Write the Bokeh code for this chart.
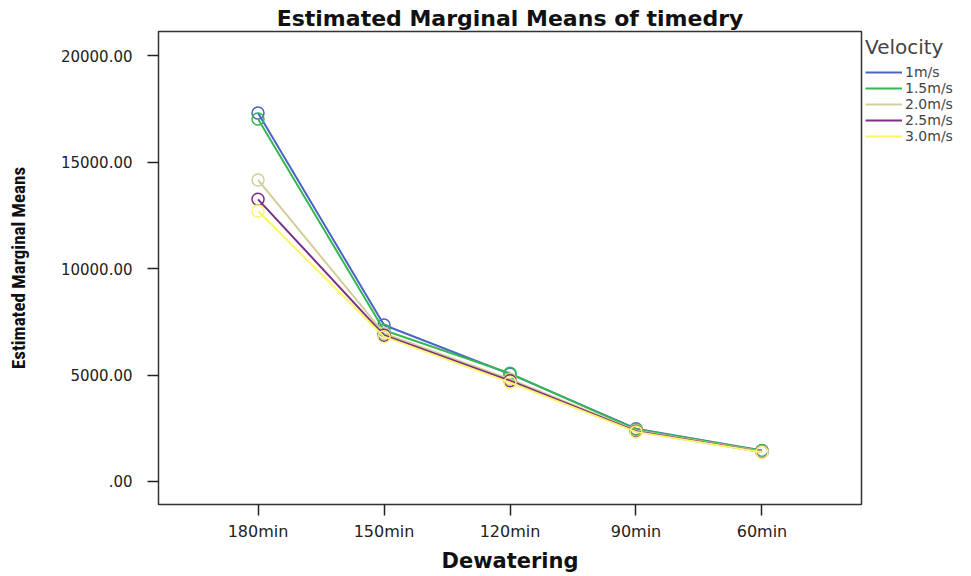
from bokeh.plotting import figure
from bokeh.models import (FactorRange, Range1d, FixedTicker, Legend, LegendItem, Title)
from bokeh.embed import file_html
from bokeh.resources import INLINE

dewatering = ["180min", "150min", "120min", "90min", "60min"]
velocities = ["1m/s", "1.5m/s", "2.0m/s", "2.5m/s", "3.0m/s"]
v_1_0 = [17300, 7350, 5050, 2480, 1460]
v_1_5 = [17020, 7100, 5080, 2450, 1440]
v_2_0 = [14160, 6950, 4800, 2400, 1410]
v_2_5 = [13250, 6870, 4730, 2360, 1390]
v_3_0 = [12700, 6800, 4650, 2330, 1370]
series = [v_1_0, v_1_5, v_2_0, v_2_5, v_3_0]
colors = ["#4b63c4", "#35b850", "#d3ce97", "#7c2f85", "#faf46e"]
y_ticks = [0, 5000, 10000, 15000, 20000]
y_tick_labels = [".00", "5000.00", "10000.00", "15000.00", "20000.00"]

p = figure(frame_width=703, frame_height=473, output_backend="svg", toolbar_location=None,
           x_range=FactorRange(factors=dewatering, range_padding=0.29,
                               range_padding_units="absolute"),
           y_range=Range1d(-1080, 21130),
           min_border_left=158, min_border_right=108,
           min_border_top=31, min_border_bottom=68)

p.title = Title(text="Estimated Marginal Means of timedry", align="center",
                text_font="DejaVu Sans", text_font_size="22px",
                text_font_style="bold", text_color="#111111",
                offset=0, standoff=2)

p.background_fill_color = "white"
p.border_fill_color = "white"
p.outline_line_color = "#333333"
p.outline_line_width = 1.5
p.xgrid.visible = False
p.ygrid.visible = False

for ax in (p.xaxis[0], p.yaxis[0]):
    ax.axis_line_color = None
    ax.major_tick_in = 0
    ax.major_tick_out = 11
    ax.major_tick_line_color = "#222222"
    ax.major_tick_line_width = 1.5
    ax.minor_tick_line_color = None
    ax.major_label_text_font = "DejaVu Sans"
    ax.major_label_text_color = "#222222"
    ax.axis_label_text_color = "#111111"
    ax.axis_label_text_font_style = "bold"

p.yaxis[0].ticker = FixedTicker(ticks=y_ticks)
p.yaxis[0].major_label_overrides = {t: l for t, l in zip(y_ticks, y_tick_labels)}
p.yaxis[0].major_label_text_font_size = "15px"
p.yaxis[0].major_label_standoff = 15
p.yaxis[0].axis_label = "Estimated Marginal Means"
p.yaxis[0].axis_label_text_font = "Liberation Sans Narrow, Roboto Condensed, Liberation Sans"
p.yaxis[0].axis_label_text_font_size = "19px"
p.yaxis[0].axis_label_standoff = 28

p.xaxis[0].major_label_text_font_size = "16px"
p.xaxis[0].major_label_standoff = 6
p.xaxis[0].axis_label = "Dewatering"
p.xaxis[0].axis_label_text_font = "DejaVu Sans"
p.xaxis[0].axis_label_text_font_size = "21px"
p.xaxis[0].axis_label_standoff = 5

items = []
for name, vals, col in zip(velocities, series, colors):
    r = p.line(dewatering, vals, line_color=col, line_width=2)
    p.scatter(dewatering, vals, size=12, marker="circle", fill_color=None,
              line_color=col, line_width=1.5)
    items.append(LegendItem(label=name, renderers=[r]))

legend = Legend(items=items, location="top_left", title="Velocity",
                title_text_font="DejaVu Sans", title_text_font_size="20px",
                title_text_font_style="normal", title_standoff=5,
                label_text_font="DejaVu Sans", label_text_font_size="14px",
                label_height=16, glyph_height=16, glyph_width=37,
                label_standoff=3, spacing=0, padding=5, margin=4,
                border_line_color=None, background_fill_alpha=0)
p.add_layout(legend, "right")

open("out.html", "w").write(file_html(p, INLINE))
